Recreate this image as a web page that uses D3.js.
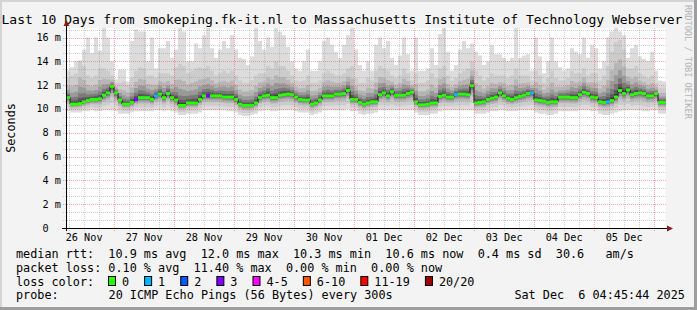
<!DOCTYPE html>
<html>
<head>
<meta charset="utf-8">
<script src="https://cdn.jsdelivr.net/npm/d3@7"></script>
<style>
  body { margin: 0; background: #f3f3f3; }
  svg { display: block; font-family: "DejaVu Sans Mono", monospace; }
</style>
</head>
<body>
<svg id="chart" width="697" height="310"></svg>
<script>
// ─── Data (150 steps of 96 min) ───
const titleText = "Last 10 Days from smokeping.fk-it.nl to Massachusetts Institute of Technology Webserver";
const startTime = new Date(2025, 10, 26, 4, 45);
const endTime = new Date(2025, 11, 6, 4, 45);

const median = [
  10.95,10.4,10.4,10.45,10.6,10.7,10.8,10.8,10.85,11.15,
  11.35,11.9,11.35,10.75,10.4,10.4,10.55,10.8,10.95,10.95,
  10.95,10.8,11.1,11.25,10.95,11.3,10.95,10.75,10.3,10.3,
  10.5,10.5,10.5,10.8,11.1,11.1,11.1,11.1,11.1,11.0,
  11.0,11.0,10.8,10.4,10.3,10.3,10.3,10.5,10.95,11.1,
  11.15,10.95,10.95,11.15,11.2,11.25,11.2,11.0,10.8,10.75,
  10.75,10.4,10.5,10.75,11.1,11.1,11.1,11.25,11.25,11.3,
  11.55,10.8,10.8,10.55,10.4,10.5,10.6,10.6,11.2,11.35,
  11.1,11.45,11.15,11.15,11.15,11.3,11.4,10.6,10.35,10.35,
  10.4,10.5,10.5,11.05,11.15,11.0,11.0,11.2,11.25,11.25,
  11.2,11.95,10.5,10.55,10.6,10.8,10.9,11.0,11.35,11.1,
  10.9,10.8,10.95,11.05,11.15,11.3,11.35,10.75,10.7,10.65,
  10.55,10.6,10.6,11.0,11.0,11.0,10.95,10.95,11.2,11.4,
  11.3,11.0,10.95,10.6,10.55,10.6,10.7,11.0,11.55,11.3,
  11.6,11.2,11.3,11.35,11.3,11.1,11.1,11.3,10.55,10.55
];

// outermost smoke (slowest ping)
const smokeMax = [
  13.2,13.5,14.0,14.1,15.0,16.0,14.7,16.0,14.9,16.8,16.0,14.0,12.5,13.3,13.3,12.3,15.7,16.7,16.5,16.5,14.0,16.0,13.4,15.1,15.1,
  15.7,14.3,15.0,16.8,16.5,14.0,14.0,15.5,15.1,16.2,16.8,15.1,14.3,15.0,15.7,15.1,16.2,15.0,14.3,14.2,13.7,14.4,16.8,15.7,15.0,
  16.0,15.2,16.8,16.5,16.2,15.2,14.0,13.4,13.2,14.0,15.0,13.2,13.2,14.0,15.7,16.0,15.4,14.8,14.3,15.4,16.2,16.8,15.0,13.7,13.2,
  14.0,13.2,15.4,16.0,15.1,15.7,14.3,13.7,14.5,16.0,14.6,13.2,16.0,13.2,13.2,13.4,15.1,13.7,16.3,16.8,14.8,13.2,13.7,15.0,15.7,
  15.1,15.5,14.8,14.5,13.7,14.0,15.4,14.6,14.6,14.3,14.0,14.3,16.8,14.3,14.5,14.6,13.2,16.0,14.4,13.0,14.0,16.0,14.0,13.5,13.2,
  13.4,15.1,14.8,14.6,16.0,14.3,15.4,15.1,13.4,14.0,16.0,16.5,16.8,16.5,16.2,14.3,15.1,15.4,14.4,14.2,14.0,14.8,13.2,12.4,12.3
];

// upper edge of the denser (mid grey) smoke
const smokeHigh = [
  12.6,12.8,13.0,14.0,13.6,12.8,12.6,12.8,13.4,13.4,13.2,12.8,12.2,12.2,12.3,12.0,12.6,13.2,13.5,13.4,12.8,12.8,12.6,13.0,13.0,
  13.0,12.8,13.5,13.8,13.6,13.0,13.2,13.4,13.5,13.4,13.6,13.2,12.8,13.0,13.2,13.0,13.2,12.8,12.4,12.2,12.2,12.4,12.8,13.0,13.0,
  13.6,13.4,14.0,13.6,13.6,13.2,12.8,12.4,12.3,12.4,12.8,12.2,12.2,12.4,13.0,13.2,13.0,12.8,12.8,13.0,13.4,13.6,12.6,12.2,12.2,
  12.6,12.4,13.2,13.6,13.4,13.2,12.8,12.6,12.8,13.4,13.0,12.4,13.0,12.2,12.2,12.4,13.0,12.6,13.4,13.6,12.8,12.4,12.6,13.0,13.2,
  13.4,14.0,13.2,12.8,12.4,12.6,13.0,12.8,12.8,12.8,12.6,12.8,13.4,12.8,12.8,12.8,12.4,13.2,12.8,12.2,12.6,13.2,12.6,12.4,12.4,
  12.6,13.2,13.0,13.0,13.4,12.8,13.0,13.0,12.4,12.8,13.6,14.8,15.6,15.8,15.0,13.4,13.4,13.6,13.0,12.8,12.6,12.8,12.2,11.8,11.8
];

// fastest ping
const smokeMin = [
  9.8,9.7,9.7,9.7,9.8,9.8,9.9,9.8,9.8,9.9,9.9,9.9,9.8,9.6,9.6,9.6,9.7,9.8,9.8,9.8,9.8,9.8,9.9,9.9,9.8,
  9.9,9.8,9.7,9.5,9.5,9.6,9.6,9.6,9.7,9.9,9.9,9.9,9.9,9.9,9.9,9.8,9.8,9.7,9.5,9.4,9.4,9.5,9.6,9.8,9.9,
  9.9,9.8,9.8,9.9,9.9,9.9,9.9,9.8,9.7,9.7,9.7,9.5,9.6,9.7,9.9,9.9,9.9,9.9,9.9,9.9,10.0,9.8,9.8,9.6,9.5,
  9.6,9.6,9.7,9.9,9.9,9.9,9.9,9.9,9.9,9.9,9.9,9.9,9.7,9.5,9.5,9.5,9.6,9.6,9.8,9.9,9.9,9.9,9.9,9.9,9.9,
  9.9,9.9,9.6,9.6,9.6,9.7,9.8,9.8,9.9,9.9,9.8,9.8,9.8,9.9,9.9,9.9,9.9,9.7,9.6,9.6,9.5,9.5,9.6,9.8,9.8,
  9.8,9.8,9.8,9.9,9.9,9.9,9.8,9.8,9.6,9.5,9.5,9.6,9.7,9.8,9.9,9.9,9.9,9.9,9.9,9.8,9.8,9.9,9.9,9.6,9.6
];

// [step index, lost pings] where loss was not zero
const lossSteps = [[17, 3], [22, 1], [35, 3], [97, 1], [116, 1], [135, 1]];

const yTicks = [0, 2, 4, 6, 8, 10, 12, 14, 16];
const yTickLabels = ["0  ", " 2 m", " 4 m", " 6 m", " 8 m", "10 m", "12 m", "14 m", "16 m"];

const lossNames = ["0", "1", "2", "3", "4-5", "6-10", "11-19", "20/20"];
const lossColors = ["#26ff00", "#00b8ff", "#0059ff", "#7e00ff", "#ff00ff", "#ff5500", "#ff0000", "#a10000"];

const legendRows = [
  "median rtt:  10.9 ms avg  12.0 ms max  10.3 ms min  10.6 ms now  0.4 ms sd  30.6   am/s",
  "packet loss: 0.10 % avg  11.40 % max  0.00 % min  0.00 % now"
];
const probeText = "20 ICMP Echo Pings (56 Bytes) every 300s";
const stampText = "Sat Dec  6 04:45:44 2025";

// ─── Layout ───
const W = 697, H = 310;
const plot = { left: 66, right: 666, top: 28, bottom: 228 };
const cw = 7.12; // monospace advance of legend font

const svg = d3.select("#chart");

svg.append("rect").attr("width", W).attr("height", H).attr("fill", "#f3f3f3");
// rrdtool style shade border
svg.append("rect").attr("x", 0).attr("y", 0).attr("width", W).attr("height", 2).attr("fill", "#d4d4d4");
svg.append("rect").attr("x", 0).attr("y", 0).attr("width", 2).attr("height", H).attr("fill", "#d4d4d4");
svg.append("rect").attr("x", 0).attr("y", H - 3).attr("width", W).attr("height", 3).attr("fill", "#9e9e9e");
svg.append("rect").attr("x", W - 3).attr("y", 0).attr("width", 3).attr("height", H).attr("fill", "#9e9e9e");

// Title
svg.append("text")
  .attr("x", 342).attr("y", 23.5)
  .attr("text-anchor", "middle")
  .style("font-size", "13px")
  .attr("fill", "#000")
  .text(titleText);

// Scales
const x = d3.scaleTime().domain([startTime, endTime]).range([plot.left, plot.right]);
const y = d3.scaleLinear().domain([0, 16.8]).range([plot.bottom, plot.top]);

const stepMs = (endTime - startTime) / median.length;
const rows = median.map((m, i) => ({
  t: new Date(+startTime + i * stepMs),
  med: m, max: smokeMax[i], high: smokeHigh[i], min: smokeMin[i]
}));
rows.push({ ...rows[rows.length - 1], t: endTime });

// Canvas
svg.append("rect")
  .attr("x", plot.left).attr("y", plot.top)
  .attr("width", plot.right - plot.left).attr("height", plot.bottom - plot.top)
  .attr("fill", "#ffffff");

svg.append("defs").append("clipPath").attr("id", "plotclip")
  .append("rect")
  .attr("x", plot.left).attr("y", plot.top)
  .attr("width", plot.right - plot.left).attr("height", plot.bottom - plot.top);

const g = svg.append("g").attr("clip-path", "url(#plotclip)");

// ── Smoke ──
g.append("path")
  .datum(rows)
  .attr("fill", "#dcdcdc")
  .attr("d", d3.area().curve(d3.curveStepAfter)
    .x((d) => x(d.t)).y0((d) => y(d.min)).y1((d) => y(d.max)));

const shades = [
  { f: 1.0, c: "#cccccc" },
  { f: 0.62, c: "#b6b6b6" },
  { f: 0.4, c: "#9a9a9a" },
  { f: 0.24, c: "#7a7a7a" },
  { f: 0.13, c: "#585858" },
  { f: 0.06, c: "#383838" }
];
shades.forEach((s) => {
  g.append("path")
    .datum(rows)
    .attr("fill", s.c)
    .attr("d", d3.area().curve(d3.curveStepAfter)
      .x((d) => x(d.t))
      .y0((d) => y(d.med - (d.med - d.min) * s.f * 0.7))
      .y1((d) => y(d.med + (d.high - d.med) * s.f)));
});

// ── Median ──
g.append("path")
  .datum(rows)
  .attr("fill", "none")
  .attr("stroke", "#111")
  .attr("stroke-width", 1)
  .attr("d", d3.line().curve(d3.curveStepAfter).x((d) => x(d.t)).y((d) => y(d.med)));

const lossMap = new Map(lossSteps);
g.selectAll("rect.med")
  .data(rows.slice(0, -1))
  .join("rect")
  .attr("class", "med")
  .attr("x", (d) => x(d.t))
  .attr("width", (d, i) => x(rows[i + 1].t) - x(d.t))
  .attr("y", (d) => y(d.med) - 1.5)
  .attr("height", 3)
  .attr("fill", (d, i) => {
    const l = lossMap.get(i) || 0;
    if (l === 0) return lossColors[0];
    if (l <= 3) return lossColors[l];
    return lossColors[4];
  });

// ── Grid (on top, like rrdtool) ──
const grid = svg.append("g");
const minorY = d3.range(1, 26).map((k) => (k * 2) / 3).filter((v, k) => (k + 1) % 3 !== 0);
grid.selectAll("line.ymin")
  .data(minorY)
  .join("line")
  .attr("x1", plot.left - 3).attr("x2", plot.right)
  .attr("y1", (d) => Math.round(y(d)) + 0.5).attr("y2", (d) => Math.round(y(d)) + 0.5)
  .attr("stroke", "rgba(140,140,140,0.4)")
  .attr("stroke-dasharray", "1,1");

const firstDay = d3.timeDay.floor(startTime);
const sixHours = d3.timeHour.every(6).range(startTime, endTime).filter((d) => d.getHours() !== 0);
grid.selectAll("line.xmin")
  .data(sixHours)
  .join("line")
  .attr("x1", (d) => Math.round(x(d)) + 0.5).attr("x2", (d) => Math.round(x(d)) + 0.5)
  .attr("y1", plot.top).attr("y2", plot.bottom + 3)
  .attr("stroke", "rgba(140,140,140,0.4)")
  .attr("stroke-dasharray", "1,1");

grid.selectAll("line.ymaj")
  .data(yTicks.slice(1))
  .join("line")
  .attr("x1", plot.left - 3).attr("x2", plot.right)
  .attr("y1", (d) => Math.round(y(d)) + 0.5).attr("y2", (d) => Math.round(y(d)) + 0.5)
  .attr("stroke", "rgba(255,40,40,0.42)")
  .attr("stroke-dasharray", "1,1");

const days = d3.timeDay.range(startTime, endTime);
grid.selectAll("line.xmaj")
  .data(days)
  .join("line")
  .attr("x1", (d) => Math.round(x(d)) + 0.5).attr("x2", (d) => Math.round(x(d)) + 0.5)
  .attr("y1", plot.top).attr("y2", plot.bottom + 3)
  .attr("stroke", "rgba(255,40,40,0.42)")
  .attr("stroke-dasharray", "1,1");

// ── Axes ──
svg.append("line")
  .attr("x1", plot.left - 4).attr("x2", plot.right + 2)
  .attr("y1", plot.bottom + 0.5).attr("y2", plot.bottom + 0.5)
  .attr("stroke", "#000");
svg.append("line")
  .attr("x1", plot.left + 0.5).attr("x2", plot.left + 0.5)
  .attr("y1", plot.bottom + 3).attr("y2", plot.top - 3)
  .attr("stroke", "#000");
svg.append("path")
  .attr("d", `M${plot.right + 1},${plot.bottom - 2.5}L${plot.right + 7},${plot.bottom + 0.5}L${plot.right + 1},${plot.bottom + 3.5}Z`)
  .attr("fill", "#8b1a1a");
svg.append("path")
  .attr("d", `M${plot.left - 2.5},${plot.top - 2}L${plot.left + 0.5},${plot.top - 8}L${plot.left + 3.5},${plot.top - 2}Z`)
  .attr("fill", "#8b1a1a");

// Y labels
svg.selectAll("text.ylab")
  .data(yTicks)
  .join("text")
  .attr("class", "ylab")
  .attr("x", 61)
  .attr("y", (d) => y(d) + 3.5)
  .attr("text-anchor", "end")
  .attr("xml:space", "preserve")
  .style("white-space", "pre")
  .style("font-size", "10.2px")
  .attr("fill", "#000")
  .text((d, i) => yTickLabels[i]);

// X labels at noon
const noons = d3.timeDay.range(firstDay, endTime)
  .map((d) => d3.timeHour.offset(d, 12))
  .filter((d) => d > startTime && d < endTime);
svg.selectAll("text.xlab")
  .data(noons)
  .join("text")
  .attr("class", "xlab")
  .attr("x", (d) => x(d))
  .attr("y", 240.5)
  .attr("text-anchor", "middle")
  .style("font-size", "10.2px")
  .attr("fill", "#000")
  .text((d) => d3.timeFormat("%d %b")(d));

// Y title
svg.append("text")
  .attr("transform", "translate(15,128) rotate(-90)")
  .attr("text-anchor", "middle")
  .style("font-size", "11.8px")
  .attr("fill", "#000")
  .text("Seconds");

// Watermark
svg.append("text")
  .attr("transform", "translate(685,5) rotate(90)")
  .style("font-size", "8.6px")
  .attr("fill", "#b4b4b4")
  .text("RRDTOOL / TOBI OETIKER");

// ── Legend ──
const lg = svg.append("g").style("font-size", "11.8px").attr("fill", "#000");
const baselines = [258, 271.8, 285.6, 299.4];
legendRows.forEach((r, i) => {
  lg.append("text")
    .attr("x", 16).attr("y", baselines[i])
    .attr("xml:space", "preserve")
    .style("white-space", "pre")
    .text(r);
});
lg.append("text").attr("x", 16).attr("y", baselines[2]).text("loss color:");
let bx = 108;
lossNames.forEach((n, i) => {
  lg.append("rect")
    .attr("x", bx + 0.5).attr("y", 276.5)
    .attr("width", 7).attr("height", 9)
    .attr("fill", lossColors[i])
    .attr("stroke", "#000");
  lg.append("text").attr("x", bx + 14).attr("y", baselines[2]).text(n);
  bx += 14 + n.length * cw + 15;
});
lg.append("text").attr("x", 16).attr("y", baselines[3]).text("probe:");
lg.append("text").attr("x", 16 + 13 * cw).attr("y", baselines[3]).text(probeText);
lg.append("text")
  .attr("x", 16 + 70 * cw).attr("y", baselines[3])
  .attr("xml:space", "preserve")
  .style("white-space", "pre")
  .text(stampText);
</script>
</body>
</html>
